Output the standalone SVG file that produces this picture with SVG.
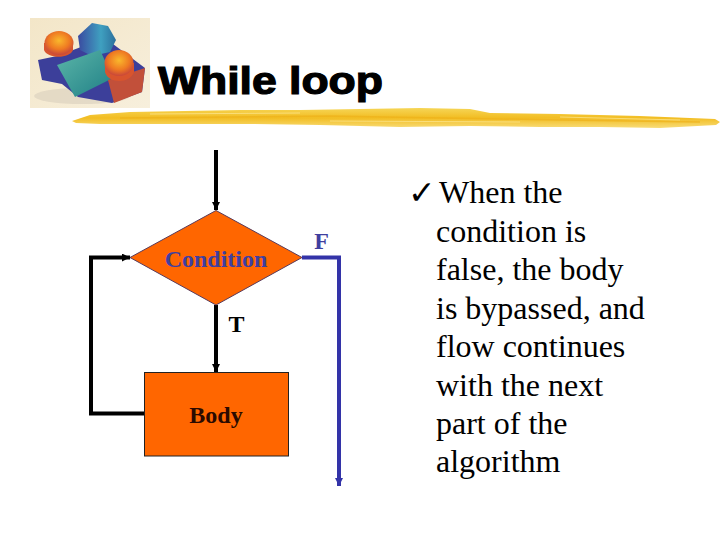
<svg xmlns="http://www.w3.org/2000/svg" width="720" height="540" viewBox="0 0 720 540">
<style>
.box{fill:#ff6600;stroke:#5a3a5a;stroke-width:1}
.lbl{font-family:"Liberation Serif",serif;font-weight:bold;font-size:24px;text-anchor:middle}
.blk{fill:none;stroke:#000;stroke-width:4}
.blu{fill:none;stroke:#3333a8;stroke-width:4}
.body{font-family:"Liberation Serif",serif;font-size:32px;fill:#000}
</style>
<defs>
<linearGradient id="sand" x1="0" y1="0" x2="1" y2="1"><stop offset="0" stop-color="#f3e6c8"/><stop offset="1" stop-color="#f7efdc"/></linearGradient>
<linearGradient id="brush" x1="0" y1="0" x2="0" y2="1"><stop offset="0" stop-color="#f6d657"/><stop offset=".5" stop-color="#f2bd22"/><stop offset="1" stop-color="#f8dc78"/></linearGradient>
<radialGradient id="ball" cx=".5" cy=".4" r=".6"><stop offset="0" stop-color="#f9b82c"/><stop offset=".6" stop-color="#ef7a22"/><stop offset="1" stop-color="#c8463a"/></radialGradient>
<linearGradient id="teal" x1="0" y1="0" x2="1" y2="1"><stop offset="0" stop-color="#5cb6a8"/><stop offset="1" stop-color="#1f7f86"/></linearGradient>
<linearGradient id="blueb" x1="0" y1="0" x2="1" y2="0"><stop offset="0" stop-color="#3a4aa0"/><stop offset=".6" stop-color="#3fa0c0"/><stop offset="1" stop-color="#2c6f9c"/></linearGradient>
<marker id="ak" markerUnits="userSpaceOnUse" markerWidth="10" markerHeight="10" refX="8" refY="4" orient="auto"><path d="M0 0L8 4L0 8Z" fill="#000"/></marker>
<marker id="ab" markerUnits="userSpaceOnUse" markerWidth="10" markerHeight="10" refX="8" refY="4" orient="auto"><path d="M0 0L8 4L0 8Z" fill="#3333a8"/></marker>
</defs>
<rect width="720" height="540" fill="#fff"/>

<g id="logo">
<rect x="30" y="18" width="120" height="90" fill="url(#sand)"/>
<ellipse cx="82" cy="96" rx="48" ry="8" fill="#d8cfbc" opacity=".6"/>
<path d="M38 60L57 56L105 38L145 68L142 92L112 103L78 97L62 84L42 80Z" fill="#3c3f9a"/>
<path d="M78 36L92 23L108 26L116 40L110 52L92 56L80 50Z" fill="url(#blueb)"/>
<path d="M57 65L100 50L113 78L75 97Z" fill="url(#teal)"/>
<path d="M108 80L145 68L142 92L114 103Z" fill="#c2503a"/>
<path d="M44 43V50C47 59 70 59 73 50V43Z" fill="#d8542e"/>
<ellipse cx="59" cy="43" rx="14.500" ry="12" fill="url(#ball)"/>
<path d="M105 63V72C108 84 130 84 134 72V63Z" fill="#d8542e"/>
<ellipse cx="119" cy="63" rx="14.500" ry="13" fill="url(#ball)"/>
</g>

<g id="title">
<text x="158" y="94" font-family="'Liberation Sans',Arial,sans-serif" font-weight="bold" font-size="38" fill="#000" stroke="#000" stroke-width="1.200" textLength="225" lengthAdjust="spacingAndGlyphs">While loop</text>
</g>

<g id="brush-rule">
<path d="M72 121L90 115L130 112L185 111L240 110L300 110L360 109L420 108L470 109L490 113L560 114L640 116L715 119L720 122L716 125L660 128L600 127L540 127L470 126L400 127L320 125L250 124L170 124L100 124L76 123Z" fill="url(#brush)"/>
<path d="M120 118L330 116L560 120L700 122" fill="none" stroke="#eeb01a" stroke-width="1.500" opacity=".7"/>
<path d="M150 114L300 113M330 121L520 122M560 117L680 120" fill="none" stroke="#fbe48a" stroke-width="1" opacity=".8"/>
</g>

<g id="connectors">
<path class="blk" d="M216 150V210" marker-end="url(#ak)"/>
<path class="blk" d="M216 305V372" marker-end="url(#ak)"/>
<path class="blk" d="M144 413.500H91V257.500H130" marker-end="url(#ak)"/>
<path class="blu" d="M302 257.500H339V486" marker-end="url(#ab)"/>
</g>

<g id="node-condition">
<path class="box" d="M216 210.500L302 257.500L216 305L130 257.500Z"/>
<text class="lbl" x="216" y="267" fill="#3f3f9f">Condition</text>
</g>
<g id="node-body">
<rect class="box" x="144.500" y="372.500" width="144" height="83.500" style="stroke:#222"/>
<text class="lbl" x="216" y="423" fill="#2a0a00">Body</text>
</g>
<g id="label-t"><text class="lbl" x="236.500" y="332" fill="#000">T</text></g>
<g id="label-f"><text class="lbl" x="321.500" y="249" fill="#3f3f9f">F</text></g>

<g id="notes">
<text x="408" y="204" font-family="'DejaVu Sans',sans-serif" font-weight="bold" font-size="33" fill="#000">✓</text>
<text class="body" x="439" y="203">When the</text>
<text class="body" x="436" y="242">condition is</text>
<text class="body" x="436" y="280">false, the body</text>
<text class="body" x="436" y="319">is bypassed, and</text>
<text class="body" x="436" y="357">flow continues</text>
<text class="body" x="436" y="396">with the next</text>
<text class="body" x="436" y="434">part of the</text>
<text class="body" x="436" y="472">algorithm</text>
</g>
</svg>
